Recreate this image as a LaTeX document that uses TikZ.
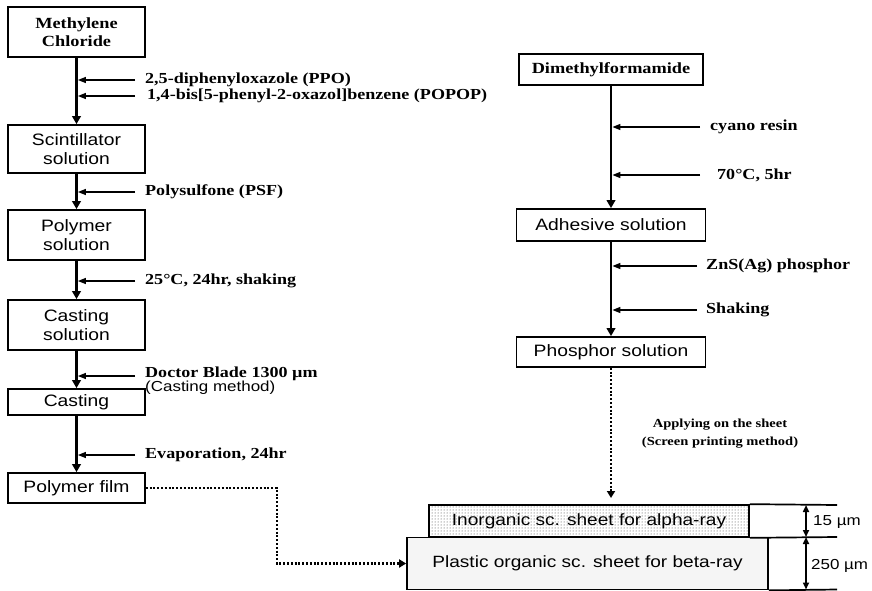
\documentclass[tikz,border=0pt]{standalone}
\usepackage{fontspec}
\setmainfont{Liberation Serif}
\newfontfamily\lblfont[FakeStretch=1.18]{Liberation Serif}
\newfontfamily\boxfont[FakeStretch=1.17]{Liberation Sans}
\usetikzlibrary{arrows.meta,patterns}
\tikzset{
  procbox/.style={draw, line width=1.7pt, align=center, inner sep=0pt,
    font=\boxfont\fontsize{16.5}{19}\selectfont},
  titlebox/.style={procbox, font=\lblfont\bfseries\fontsize{15.5}{17.5}\selectfont},
  lbl/.style={anchor=west, inner sep=0pt, font=\lblfont\bfseries\fontsize{15.3}{17}\selectfont},
  lblsans/.style={anchor=west, inner sep=0pt, font=\boxfont\fontsize{14.5}{17}\selectfont},
  applbl/.style={anchor=center, inner sep=0pt, font=\lblfont\bfseries\fontsize{12.3}{15}\selectfont},
  mainflow/.style={line width=2.8pt, -{Triangle[width=8.5pt,length=8pt]}},
  addarrow/.style={line width=1.3pt, -{Triangle[width=6pt,length=8pt]}},
  dotline/.style={line width=2.4pt, dash pattern=on 2pt off 1.8pt, -{Triangle[width=8pt,length=7pt]}},
  sheetbox/.style={draw, line width=1.7pt, inner sep=0pt, font=\boxfont\fontsize{16.3}{19}\selectfont},
  dimline/.style={line width=1.7pt},
  dimarrow/.style={line width=1.6pt, {Triangle[width=6pt,length=7pt]}-{Triangle[width=6pt,length=7pt]}},
  dimlbl/.style={anchor=west, inner sep=0pt, font=\boxfont\fontsize{14.5}{17}\selectfont}
}
\begin{document}
\begin{tikzpicture}[x=1pt,y=-1pt]
\useasboundingbox (0,0) rectangle (872,591);

% ---- left column boxes
\node[titlebox, minimum width=137pt, minimum height=50pt] (mc) at (76.5,32) {Methylene\\Chloride};
\node[procbox, minimum width=137pt, minimum height=48pt] (sc) at (76.5,149) {Scintillator\\solution};
\node[procbox, minimum width=137pt, minimum height=50pt] (ps) at (76.5,235) {Polymer\\solution};
\node[procbox, minimum width=137pt, minimum height=50pt] (cs) at (76.5,325) {Casting\\solution};
\node[procbox, minimum width=137pt, minimum height=26pt] (ca) at (76.5,402) {Casting};
\node[procbox, minimum width=137pt, minimum height=30pt] (pf) at (76.5,488) {Polymer film};

\draw[mainflow] (mc) -- (sc);
\draw[mainflow] (sc) -- (ps);
\draw[mainflow] (ps) -- (cs);
\draw[mainflow] (cs) -- (ca);
\draw[mainflow] (ca) -- (pf);

% ---- left column labels
\node[lbl] (ppo) at (145,80) {2,5-diphenyloxazole (PPO)};
\node[lbl] (popop) at (147,96) {1,4-bis[5-phenyl-2-oxazol]benzene (POPOP)};
\node[lbl] (psf) at (145,192) {Polysulfone (PSF)};
\node[lbl] (shk) at (145,281) {25°C, 24hr, shaking};
\node[lbl] (doc) at (145,374) {Doctor Blade 1300 µm};
\node[lblsans] (cmeth) at (145,388) {(Casting method)};
\node[lbl] (evap) at (145,455) {Evaporation, 24hr};

\draw[addarrow] ([xshift=-10pt]ppo.west) -- ([xshift=1.4pt]ppo.west -| mc.south);
\draw[addarrow] ([xshift=-12pt]popop.west) -- ([xshift=1.4pt]popop.west -| mc.south);
\draw[addarrow] ([xshift=-10pt]psf.west) -- ([xshift=1.4pt]psf.west -| mc.south);
\draw[addarrow] ([xshift=-10pt]shk.west) -- ([xshift=1.4pt]shk.west -| mc.south);
\draw[addarrow] ([xshift=-10pt,yshift=-2pt]doc.west) -- ([xshift=1.4pt,yshift=-2pt]doc.west -| mc.south);
\draw[addarrow] ([xshift=-10pt]evap.west) -- ([xshift=1.4pt]evap.west -| mc.south);

% ---- right column boxes
\node[titlebox, minimum width=184pt, minimum height=31pt] (dmf) at (611,69.5) {Dimethylformamide};
\node[procbox, minimum width=189pt, minimum height=32pt] (adh) at (611,225) {Adhesive solution};
\node[procbox, minimum width=189pt, minimum height=30pt] (phos) at (611,352) {Phosphor solution};

\draw[mainflow] (dmf) -- (adh);
\draw[mainflow] (adh) -- (phos);

% ---- right column labels
\node[lbl] (cyano) at (710,127) {cyano resin};
\node[lbl] (temp) at (717,175) {70°C, 5hr};
\node[lbl] (zns) at (706,266) {ZnS(Ag) phosphor};
\node[lbl] (shaking) at (706,310) {Shaking};

\draw[addarrow] ([xshift=-10pt]cyano.west) -- ([xshift=1.4pt]cyano.west -| dmf.south);
\draw[addarrow] ([xshift=-17pt]temp.west) -- ([xshift=1.4pt]temp.west -| dmf.south);
\draw[addarrow] ([xshift=-9pt]zns.west) -- ([xshift=1.4pt]zns.west -| dmf.south);
\draw[addarrow] ([xshift=-9pt]shaking.west) -- ([xshift=1.4pt]shaking.west -| dmf.south);

\node[applbl] (app1) at (720,425) {Applying on the sheet};
\node[applbl] (app2) at (720,443) {(Screen printing method)};

% ---- sheets
\node[sheetbox, pattern=dots, pattern color=black!80, minimum width=320pt, minimum height=32pt] (inorg) at (589,521) {Inorganic sc. sheet for alpha-ray};
\node[sheetbox, fill=black!4, minimum width=361pt, minimum height=52pt] (plast) at (587.5,563.5) {Plastic organic sc. sheet for beta-ray};

\coordinate (applyend) at (611,498);
\draw[dotline] (phos.south) -- (applyend);

\coordinate (bend) at (277,488);
\draw[dotline] (pf.east) -- (bend) |- (plast.west);

% ---- thickness dimensions
\coordinate (r1) at (837,505);
\coordinate (r2) at (837,537);
\coordinate (r3) at (837,589.5);
\coordinate (d1) at (806,505);
\coordinate (d2) at (806,537);
\coordinate (d3) at (806,589.5);
\draw[dimline] (inorg.north east) -- (r1);
\draw[dimline] (inorg.south east) -- (r2);
\draw[dimline] (plast.south east) -- (r3);
\draw[dimarrow] (d1) -- (d2);
\draw[dimarrow] (d2) -- (d3);
\node[dimlbl] (t15) at (813,522) {15 µm};
\node[dimlbl] (t250) at (811,566) {250 µm};
\end{tikzpicture}
\end{document}
